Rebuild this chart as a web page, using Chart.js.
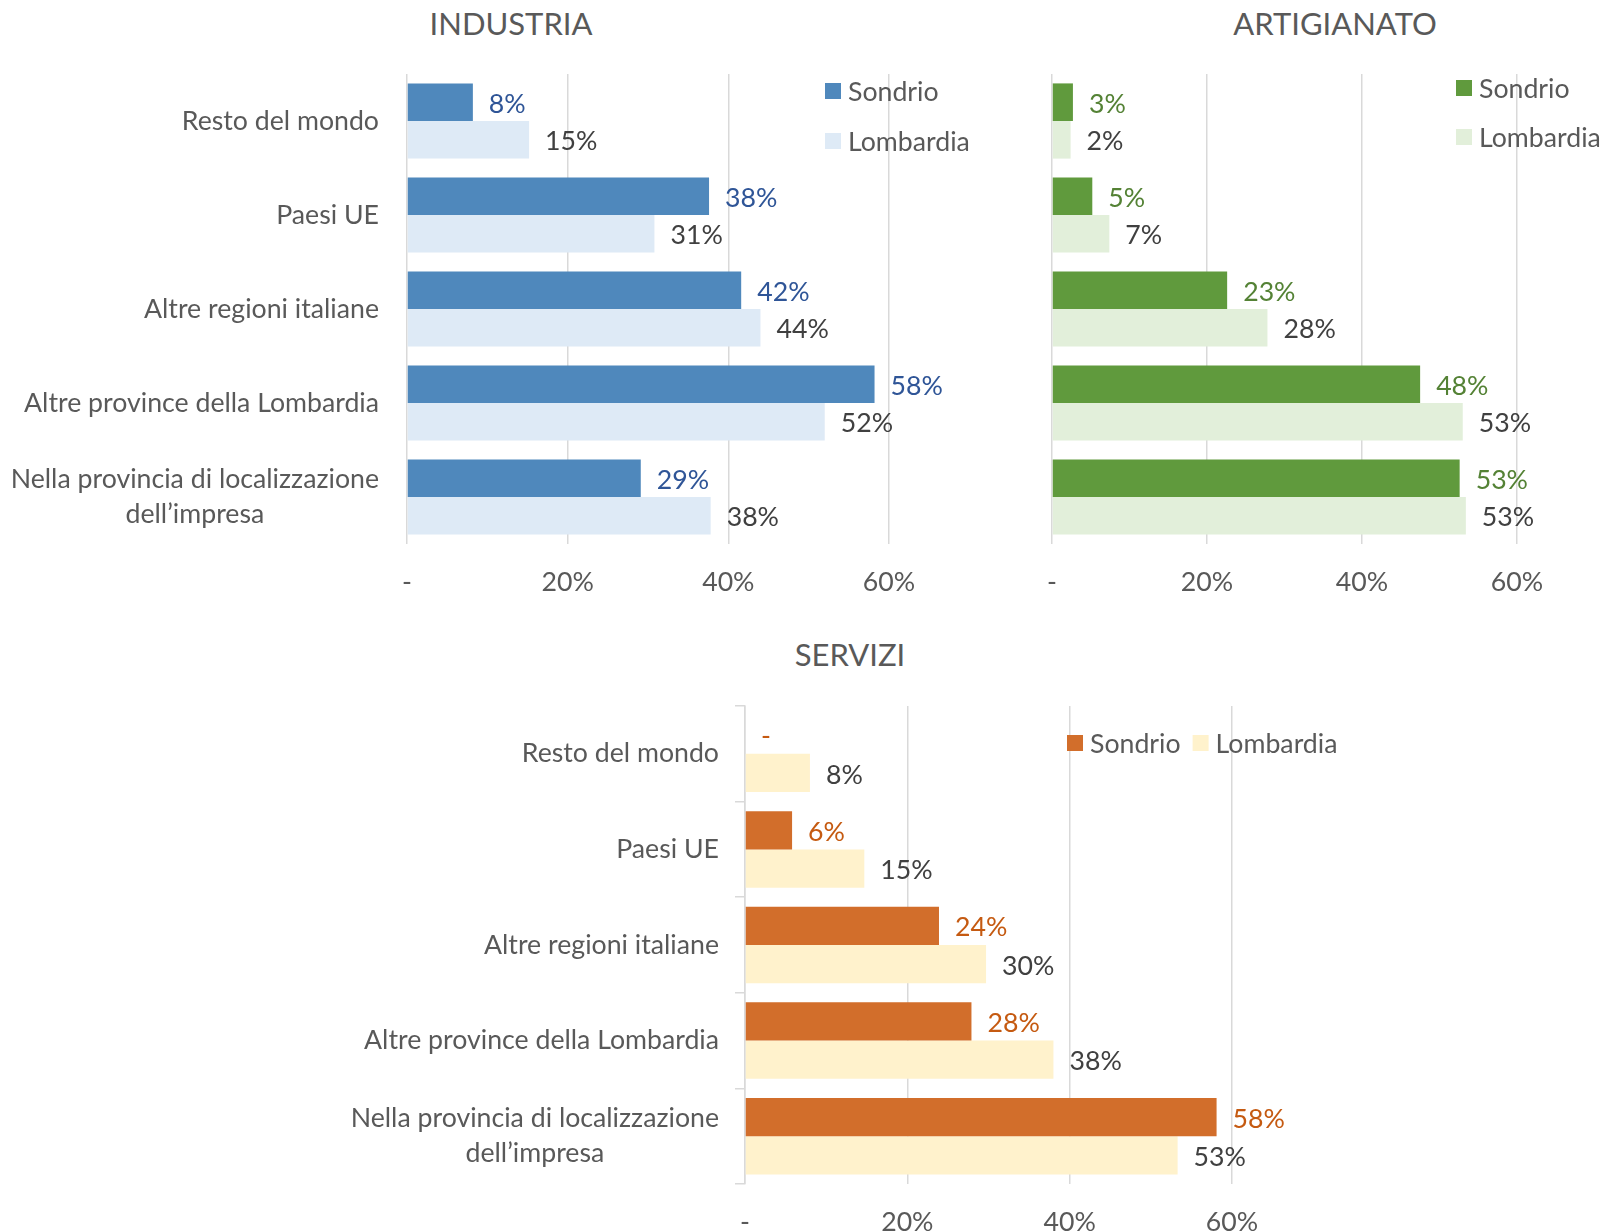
<!DOCTYPE html>
<html>
<head>
<meta charset="utf-8">
<script src="https://cdn.jsdelivr.net/npm/chart.js@4/dist/chart.umd.min.js"></script>
<style>
  body { margin: 0; background: #fff; width: 1607px; height: 1232px; position: relative; overflow: hidden; }
  canvas { position: absolute; }
  .title { position: absolute; font-family: Lato, sans-serif; font-size: 31px; color: #595959; transform: translate(-50%, -50%); white-space: nowrap; }
</style>
</head>
<body>
<div class="title" style="left:511px;top:23px">INDUSTRIA</div>
<div class="title" style="left:1335px;top:23px">ARTIGIANATO</div>
<div class="title" style="left:850px;top:654px">SERVIZI</div>
<canvas id="industria" width="1010" height="620" style="left:0;top:0"></canvas>
<canvas id="artigianato" width="647" height="620" style="left:960px;top:0"></canvas>
<canvas id="servizi" width="1277" height="612" style="left:330px;top:620px"></canvas>
<script>
// categories, top to bottom
let categories = [
    "Resto del mondo",
    "Paesi UE",
    "Altre regioni italiane",
    "Altre province della Lombardia",
    ["Nella provincia di localizzazione", "dell\u2019impresa"]
];
let seriesNames = ["Sondrio", "Lombardia"];
let xTicks = [0, 0.2, 0.4, 0.6];

// shares
let industriaSondrio   = [0.082, 0.376, 0.416, 0.582, 0.291];
let industriaLombardia = [0.152, 0.308, 0.440, 0.520, 0.378];
let artigianatoSondrio   = [0.027, 0.052, 0.226, 0.475, 0.526];
let artigianatoLombardia = [0.024, 0.074, 0.278, 0.530, 0.534];
let serviziSondrio   = [0, 0.058, 0.239, 0.279, 0.581];
let serviziLombardia = [0.080, 0.147, 0.297, 0.380, 0.533];

const FONT = "Lato";
const FS = 26.7;
const GRID = "#D9D9D9";

function pct(v)
{
    return v === 0 ? "-" : Math.round(v * 100) + "%";
}

// data labels, category labels and the legend drawn on the canvas
const extras = {
    id: "extras",
    afterDatasetsDraw(chart, args, opts)
    {
        const ctx = chart.ctx;
        ctx.save();
        ctx.font = FS + "px " + FONT;
        ctx.textBaseline = "middle";

        chart.data.datasets.forEach(function(ds, di)
        {
            const meta = chart.getDatasetMeta(di);
            meta.data.forEach(function(bar, i)
            {
                ctx.fillStyle = ds.labelColor;
                ctx.textAlign = "left";
                ctx.fillText(pct(ds.data[i]), bar.x + 16, bar.y + 2);
            });
        });

        if (opts.showCategories)
        {
            const y = chart.scales.y;
            const right = chart.chartArea.left - opts.catGap;
            ctx.fillStyle = "#595959";
            ctx.textAlign = "center";
            chart.data.labels.forEach(function(lab, i)
            {
                const lines = Array.isArray(lab) ? lab : [lab];
                const w = Math.max.apply(null, lines.map(l => ctx.measureText(l).width));
                const cx = right - w / 2;
                const cy = y.getPixelForValue(i);
                const lh = 35;
                lines.forEach(function(l, k)
                {
                    ctx.fillText(l, cx, cy + (k - (lines.length - 1) / 2) * lh);
                });
            });
        }

        const lg = opts.legend;
        let lx = lg.x, ly = lg.y;
        ctx.textAlign = "left";
        chart.data.datasets.forEach(function(ds)
        {
            ctx.fillStyle = ds.backgroundColor;
            ctx.fillRect(lx, ly - 8, 16, 16);
            ctx.fillStyle = "#595959";
            ctx.fillText(ds.label, lx + 23, ly + 1);
            if (lg.horizontal)
                lx += 23 + ctx.measureText(ds.label).width + 12;
            else
                ly += lg.step;
        });
        ctx.restore();
    }
};

function makeChart(id, sondrio, lombardia, colors, box)
{
    const canvas = document.getElementById(id);
    return new Chart(canvas.getContext("2d"),
    {
        type: "bar",
        data:
        {
            labels: categories,
            datasets: [
                {
                    label: seriesNames[0],
                    data: sondrio,
                    backgroundColor: colors[0],
                    labelColor: colors[2],
                    categoryPercentage: 0.8,
                    barPercentage: 1.0
                },
                {
                    label: seriesNames[1],
                    data: lombardia,
                    backgroundColor: colors[1],
                    labelColor: "#404040",
                    categoryPercentage: 0.8,
                    barPercentage: 1.0
                }
            ]
        },
        options:
        {
            indexAxis: "y",
            responsive: false,
            animation: false,
            layout: { padding: { top: box.top, right: canvas.width - box.right, left: 0, bottom: 0 } },
            plugins:
            {
                legend: { display: false },
                tooltip: { enabled: false },
                extras: { showCategories: box.cats, catGap: box.catGap, legend: box.legend }
            },
            scales:
            {
                x:
                {
                    min: 0,
                    max: 0.6,
                    afterBuildTicks: function(s) { s.ticks = xTicks.map(v => ({ value: v })); },
                    afterFit: function(s) { s.height = canvas.height - box.bottom; },
                    grid: { color: GRID, lineWidth: 1.5, drawTicks: false },
                    border: { display: false },
                    ticks: { callback: v => pct(v), color: "#595959", padding: 22, font: { family: FONT, size: FS } }
                },
                y:
                {
                    afterFit: function(s) { s.width = box.left; },
                    ticks: { display: false },
                    grid: box.axisTicks
                        ? { display: true, drawOnChartArea: false, drawTicks: true, tickLength: 10, offset: true, color: GRID, lineWidth: 1.5 }
                        : { display: false },
                    border: { display: box.axisTicks, color: GRID, width: 1.5 }
                }
            }
        },
        plugins: [extras]
    });
}

makeChart("industria", industriaSondrio, industriaLombardia,
    ["#4F88BC", "#DEEAF6", "#2F5597"],
    { left: 407, right: 889, top: 74, bottom: 544, cats: true, catGap: 28, axisTicks: false,
      legend: { x: 825, y: 91, step: 50, horizontal: false } });

makeChart("artigianato", artigianatoSondrio, artigianatoLombardia,
    ["#609A3D", "#E2EFDA", "#548235"],
    { left: 92, right: 557, top: 74, bottom: 544, cats: false, catGap: 0, axisTicks: false,
      legend: { x: 496, y: 88, step: 49, horizontal: false } });

makeChart("servizi", serviziSondrio, serviziLombardia,
    ["#D26E2B", "#FFF2CC", "#C55A11"],
    { left: 415, right: 902, top: 86, bottom: 564, cats: true, catGap: 26, axisTicks: true,
      legend: { x: 737, y: 123, step: 0, horizontal: true } });
</script>
</body>
</html>
